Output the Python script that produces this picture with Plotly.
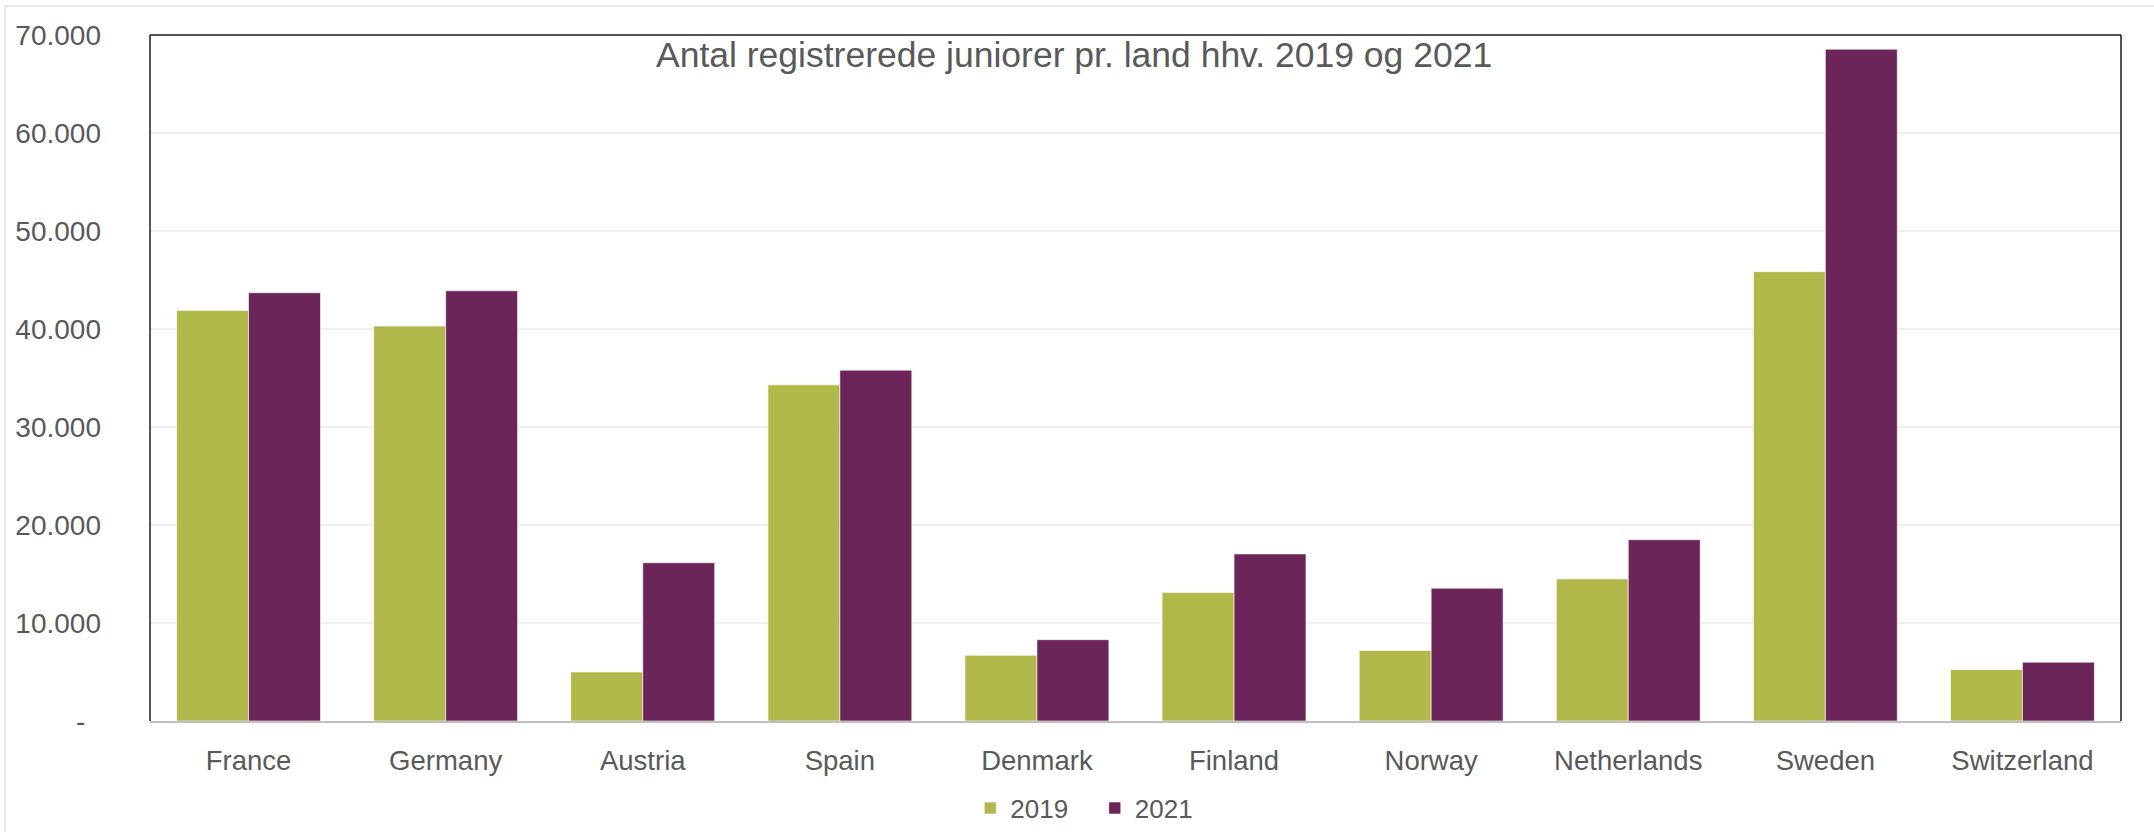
import plotly.graph_objects as go

countries = ["France", "Germany", "Austria", "Spain", "Denmark", "Finland",
             "Norway", "Netherlands", "Sweden", "Switzerland"]
v2019 = [41900, 40300, 5000, 34300, 6700, 13100, 7200, 14500, 45850, 5250]
v2021 = [43700, 43900, 16150, 35800, 8300, 17050, 13550, 18500, 68550, 6000]
tick_vals = [0, 10000, 20000, 30000, 40000, 50000, 60000, 70000]
tick_text = ["-\u00a0\u00a0", "10.000", "20.000", "30.000", "40.000", "50.000", "60.000", "70.000"]
series_names = ["2019", "2021"]
title_text = "Antal registrerede juniorer pr. land hhv. 2019 og 2021"

GREEN = "#B1B84A"
PURPLE = "#6C2558"
TXT = "#595959"
FONT = "Liberation Sans, Arial, sans-serif"

fig = go.Figure()
fig.add_trace(go.Bar(name=series_names[0] + "\u00a0\u00a0\u00a0", x=countries, y=v2019,
                     marker_color=GREEN,
                     marker_line=dict(color="rgba(255,255,255,0.6)", width=1)))
fig.add_trace(go.Bar(name=series_names[1], x=countries, y=v2021, marker_color=PURPLE,
                     marker_line=dict(color="rgba(255,255,255,0.6)", width=1)))

fig.update_layout(
    width=2154, height=832,
    margin=dict(l=150, r=33, t=35, b=111, autoexpand=False),
    paper_bgcolor="white", plot_bgcolor="white",
    barmode="group", bargap=0.27, bargroupgap=0,
    font=dict(family=FONT, color=TXT, size=26),
    showlegend=True,
    legend=dict(orientation="h", x=0.474, xanchor="center", y=-0.127, yanchor="middle",
                font=dict(size=26, color=TXT), itemwidth=30, tracegroupgap=0,
                bgcolor="rgba(0,0,0,0)"),
)
fig.update_xaxes(showline=True, linecolor="#BFBFBF", linewidth=2, showgrid=False,
                 automargin=False,
                 ticks="", tickfont=dict(size=27.5, color=TXT), ticklabelstandoff=14)
fig.update_yaxes(range=[0, 70000], tickvals=tick_vals, ticktext=tick_text,
                 automargin=False,
                 showgrid=True, gridcolor="#EFEFEF", gridwidth=1.5, zeroline=False,
                 showline=False, ticks="", tickfont=dict(size=28, color=TXT),
                 ticklabelstandoff=48)

# plot frame (black top/left/right)
fig.add_shape(type="line", xref="paper", yref="paper", x0=0, x1=0, y0=0, y1=1,
              line=dict(color="#1A1A1A", width=1.5), layer="above")
fig.add_shape(type="line", xref="paper", yref="paper", x0=0, x1=1, y0=1, y1=1,
              line=dict(color="#1A1A1A", width=1.5), layer="above")
fig.add_shape(type="line", xref="paper", yref="paper", x0=1, x1=1, y0=0, y1=1,
              line=dict(color="#1A1A1A", width=1.5), layer="above")
# outer chart frame (partly cut off)
fig.add_shape(type="rect", xref="paper", yref="paper",
              x0=-145/1971, x1=1.1, y0=-0.3, y1=1 + 29/686,
              line=dict(color="#E3E3E3", width=1.5), layer="below")

fig.add_annotation(text=title_text, xref="paper", yref="paper",
                   x=0.469, y=(721 - 55) / 686, xanchor="center", yanchor="middle",
                   showarrow=False,
                   font=dict(family=FONT, size=35.5, color=TXT))

fig.write_html("out.html", config={"displayModeBar": False},
               post_script="document.body.style.margin='0';document.body.style.overflow='hidden';")
